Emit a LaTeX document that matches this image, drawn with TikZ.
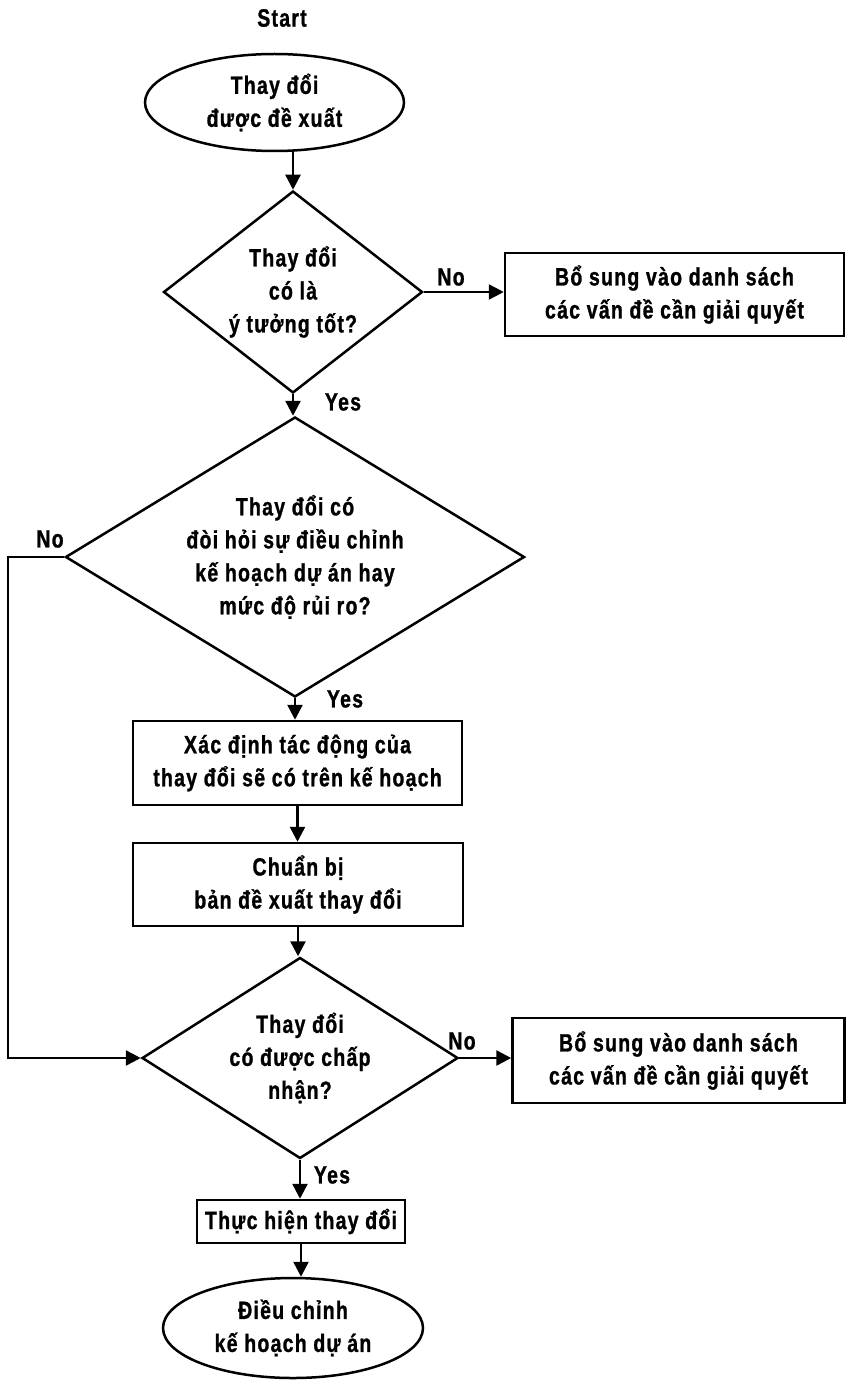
\documentclass[tikz,border=0pt]{standalone}
\usepackage{fontspec}
\setmainfont{Liberation Sans}[FakeStretch=0.78,LetterSpace=5,FakeBold=1]
\usetikzlibrary{shapes.geometric,arrows.meta}

\begin{document}
\begin{tikzpicture}[x=1pt,y=-1pt,
  every node/.style={font=\bfseries\fontsize{25}{33}\selectfont, align=center, inner sep=0pt},
  flow/.style={line width=2.5pt},
  link/.style={flow, -{Triangle[length=15pt,width=15pt]}},
  terminal/.style={flow, draw, ellipse},
  decision/.style={flow, draw, diamond},
  process/.style={flow, draw, rectangle}
]
% page
\fill[white] (0,0) rectangle (846,1380);
\useasboundingbox (0,0) rectangle (846,1380);

% shapes
\node (start) at (282,18) {Start};
\node[terminal, minimum width=259pt, minimum height=97pt] (e1) at (274.5,102.5) {Thay đổi\\được đề xuất};
\node[decision, minimum width=259pt, minimum height=202pt, aspect=1.28] (d1) at (293,292) {Thay đổi\\có là\\ý tưởng tốt?};
\node[process, minimum width=339pt, minimum height=83pt] (b1) at (674.5,294.5) {Bổ sung vào danh sách\\các vấn đề cần giải quyết};
\node[decision, minimum width=459pt, minimum height=280pt, aspect=1.64] (d2) at (295,557) {Thay đổi có\\đòi hỏi sự điều chỉnh\\kế hoạch dự án hay\\mức độ rủi ro?};
\node[process, minimum width=329pt, minimum height=84pt] (b2) at (297.5,763) {Xác định tác động của\\thay đổi sẽ có trên kế hoạch};
\node[process, minimum width=330pt, minimum height=83pt] (b3) at (298,884.5) {Chuẩn bị\\bản đề xuất thay đổi};
\node[decision, minimum width=316pt, minimum height=201pt, aspect=1.57] (d3) at (300,1058) {Thay đổi\\có được chấp\\nhận?};
\node[process, minimum width=332pt, minimum height=85pt] (b4) at (678.5,1060.5) {Bổ sung vào danh sách\\các vấn đề cần giải quyết};
\node[process, minimum width=208pt, minimum height=43pt] (b5) at (301,1221.5) {Thực hiện thay đổi};
\node[terminal, minimum width=260pt, minimum height=100pt] (e2) at (293,1328) {Điều chỉnh\\kế hoạch dự án};

% branch labels
\node (no1) at (451,277) {No};
\node (yes1) at (343,402) {Yes};
\node (no2) at (50,539) {No};
\node (yes2) at (345,699) {Yes};
\node (no3) at (462,1041) {No};
\node (yes3) at (332,1175) {Yes};

% connectors
\coordinate (loop) at (8,557);
\draw[link] ([yshift=1pt]d1.north |- e1.south) -- (d1.north);
\draw[link] (d1.east) -- (d1.east -| b1.west);
\draw[link] (d1.south) -- (d1.south |- d2.north);
\draw[link] (d2.south) -- (d2.south |- b2.north);
\draw[link] (d2.west) -- (loop) |- (d3.west);
\draw[link] (b2.south) -- (b2.south |- b3.north);
\draw[link] (b3.south) -- (b3.south |- d3.north);
\draw[link] (d3.east) -- (d3.east -| b4.west);
\draw[link] (d3.south) -- (d3.south |- b5.north);
\draw[link] (b5.south) -- (b5.south |- e2.north);
\end{tikzpicture}
\end{document}
